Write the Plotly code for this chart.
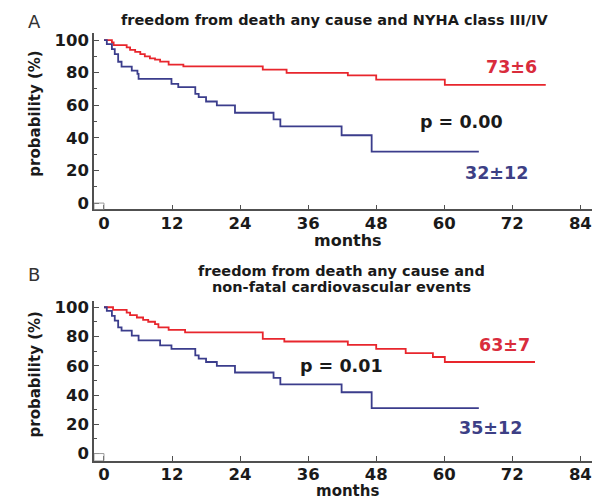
import plotly.graph_objects as go

# Kaplan-Meier estimates (months, % event-free) for the two groups
red_a_months = [0, 1.4, 1.7, 4.0, 4.6, 5.5, 6.4, 7.2, 8.1, 9.0, 9.9, 11.4, 14.0, 28.0, 32.2, 43.0, 48.0, 60.1, 77.9]
red_a_surv = [100, 98.5, 96.9, 95.5, 94.0, 92.8, 91.4, 90.0, 88.8, 88.0, 86.8, 84.9, 83.8, 81.9, 79.9, 78.3, 75.7, 72.5, 72.5]

blue_a_months = [0, 0.5, 1.4, 1.9, 2.5, 3.1, 4.9, 5.9, 6.1, 11.9, 13.1, 16.1, 16.7, 18.0, 19.9, 23.1, 29.9, 31.1, 41.9, 47.2, 66.1]
blue_a_surv = [100, 97.5, 94.4, 91.4, 86.7, 83.7, 81.2, 79.2, 76.2, 73.1, 71.1, 67.0, 65.0, 62.3, 59.9, 55.4, 51.4, 47.1, 41.6, 31.5, 31.5]

red_b_months = [0, 1.6, 4.0, 4.6, 5.8, 6.9, 7.8, 9.0, 9.6, 11.4, 14.3, 28.0, 31.8, 43.0, 48.0, 53.2, 58.0, 60.1, 76.0]
red_b_surv = [100, 98.2, 96.4, 94.6, 93.0, 91.4, 90.1, 88.5, 86.3, 84.5, 82.9, 78.4, 76.6, 74.3, 71.6, 68.7, 66.0, 62.6, 62.6]

blue_b_months = [0, 0.5, 1.4, 1.9, 2.5, 3.1, 4.9, 6.1, 9.9, 11.9, 16.1, 16.7, 18.0, 19.9, 23.1, 29.9, 31.1, 41.9, 47.2, 66.1]
blue_b_surv = [100, 97.5, 94.1, 90.8, 86.3, 84.0, 80.6, 77.3, 73.9, 71.6, 67.1, 64.9, 62.6, 59.9, 55.4, 51.8, 47.3, 41.9, 31.1, 31.1]

x_ticks = [0, 12, 24, 36, 48, 60, 72, 84]
y_ticks = [0, 20, 40, 60, 80, 100]

# panel titles, one list entry per text line
title_lines = [
    ["freedom from death any cause and NYHA class III/IV"],
    ["freedom from death any cause and", "non-fatal cardiovascular events"],
]
panel_letters = ["A", "B"]
red_labels = ["73±6", "63±7"]
blue_labels = ["32±12", "35±12"]
p_labels = ["p = 0.00", "p = 0.01"]

RED = "#e8262d"
BLUE = "#3b3d8c"
RED_TXT = "#d92c3c"
BLUE_TXT = "#3d3f85"
AXIS = "#505050"
INK = "#1a1a1a"
FONT = "DejaVu Sans"

W, H = 608, 500


def py(px):
    return 1 - px / H


X_RANGE = [-1.76, 86.0]
Y_RANGE = [[-3.94, 104.3], [-4.9, 104.5]]
# plot domains in pixels: (top, bottom)
Y_DOM_PX = [(30.4, 209.0), (301.3, 463.3)]
X_DOM = [94 / W, 591.7 / W]

fig = go.Figure()

curves = [
    (red_a_months, red_a_surv, RED, "x", "y"),
    (blue_a_months, blue_a_surv, BLUE, "x", "y"),
    (red_b_months, red_b_surv, RED, "x2", "y2"),
    (blue_b_months, blue_b_surv, BLUE, "x2", "y2"),
]
for t, s, c, xa, ya in curves:
    fig.add_trace(go.Scatter(x=t, y=s, mode="lines", line=dict(color=c, width=1.8, shape="hv"),
                             xaxis=xa, yaxis=ya, showlegend=False, hoverinfo="skip"))

tick_font = dict(family=FONT, size=16.5, color=INK, weight="bold")

layout = dict(
    width=W, height=H,
    margin=dict(l=0, r=0, t=0, b=0),
    paper_bgcolor="white", plot_bgcolor="white",
    showlegend=False,
)
for i in range(2):
    sfx = "" if i == 0 else "2"
    top, bot = Y_DOM_PX[i]
    layout["xaxis" + sfx] = dict(
        domain=X_DOM, range=X_RANGE, tickvals=x_ticks, ticks="inside", ticklen=5,
        tickwidth=1.2, tickcolor=AXIS, showline=True, linecolor=AXIS, linewidth=1.6,
        showgrid=False, zeroline=False, tickfont=tick_font, anchor="y" + sfx,
        ticklabelstandoff=-2, fixedrange=True,
    )
    layout["yaxis" + sfx] = dict(
        domain=[py(bot), py(top)], range=Y_RANGE[i], tickvals=y_ticks, ticks="inside",
        ticklen=5, tickwidth=1.2, tickcolor=AXIS, showline=True, linecolor=AXIS,
        linewidth=1.6, showgrid=False, zeroline=False, tickfont=tick_font,
        anchor="x" + sfx, fixedrange=True,
        minor=dict(dtick=10, tick0=0, ticks="inside", ticklen=3, tickcolor=AXIS),
    )
fig.update_layout(**layout)

ann = []
title_x = [334, 341]
title_y = [[17], [271, 287]]
letter_y = [19, 275]
months_y = [240, 494]
months_size = [16, 15]
ylabel_y = [112, 376]
for i in range(2):
    for line, ty in zip(title_lines[i], title_y[i]):
        ann.append(dict(text=line, x=title_x[i] / W, y=py(ty),
                        xref="paper", yref="paper", showarrow=False, xanchor="center", yanchor="middle",
                        font=dict(family=FONT, size=14.5, color=INK, weight="bold")))
    ann.append(dict(text=panel_letters[i], x=34 / W, y=py(letter_y[i]), xref="paper", yref="paper",
                    showarrow=False, xanchor="center", yanchor="middle",
                    font=dict(family=FONT, size=18, color="#333333")))
    ann.append(dict(text="months", x=348 / W, y=py(months_y[i]), xref="paper", yref="paper",
                    showarrow=False, xanchor="center", yanchor="middle", borderpad=0,
                    font=dict(family=FONT, size=months_size[i], color=INK, weight="bold")))
    ann.append(dict(text="probability (%)", x=35 / W, y=py(ylabel_y[i]), xref="paper", yref="paper",
                    showarrow=False, xanchor="center", yanchor="middle", textangle=-90,
                    font=dict(family=FONT, size=15, color=INK, weight="bold")))

# value labels placed in data coordinates
label_pos = [
    dict(red=(71.9, 83.3), p=(63.1, 50.0), blue=(69.2, 18.7)),
    dict(red=(70.6, 74.3), p=(41.8, 59.9), blue=(68.1, 17.6)),
]
for i in range(2):
    sfx = "" if i == 0 else "2"
    lp = label_pos[i]
    for key, txt, col in (("red", red_labels[i], RED_TXT), ("p", p_labels[i], INK),
                          ("blue", blue_labels[i], BLUE_TXT)):
        ann.append(dict(text=txt, x=lp[key][0], y=lp[key][1], xref="x" + sfx, yref="y" + sfx,
                        showarrow=False, xanchor="center", yanchor="middle",
                        font=dict(family=FONT, size=17.5, color=col, weight="bold")))
fig.update_layout(annotations=ann)

# small origin box in the lower-left corner of each panel
shapes = []
for i in range(2):
    sfx = "" if i == 0 else "2"
    shapes.append(dict(type="rect", xref="x" + sfx, yref="y" + sfx, x0=X_RANGE[0], x1=0,
                       y0=Y_RANGE[i][0], y1=0, line=dict(color="#9a9a9a", width=1)))
fig.update_layout(shapes=shapes)

fig.write_html("out.html")
